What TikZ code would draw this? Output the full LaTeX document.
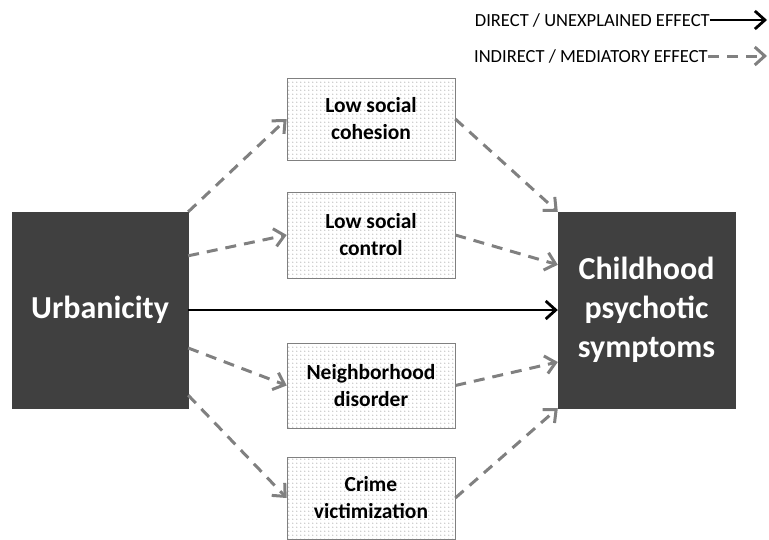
\documentclass[tikz,border=0pt]{standalone}
\usepackage{fontspec}
\setmainfont{Carlito}
\usetikzlibrary{arrows.meta,patterns}
\definecolor{darkbox}{HTML}{404040}
\definecolor{arrowgray}{HTML}{808080}
\pgfdeclarepatternformonly{sparsedots}{\pgfpointorigin}{\pgfpoint{4pt}{4pt}}{\pgfpoint{4pt}{4pt}}{%
  \pgfpathcircle{\pgfpoint{1pt}{1pt}}{0.75pt}\pgfusepath{fill}}
\begin{document}
\begin{tikzpicture}[x=1pt,y=-1pt,
  bigbox/.style={draw=darkbox,fill=darkbox,text=white,font=\bfseries\fontsize{32}{39}\selectfont,align=center,inner sep=0pt},
  medbox/.style={draw=arrowgray,line width=0.6pt,pattern=sparsedots,pattern color=gray!75,font=\bfseries\fontsize{21.5}{27}\selectfont,align=center,inner sep=0pt},
  direct/.style={line width=2.8pt,black,-{Straight Barb[length=10pt,width=18pt]}},
  indirect/.style={line width=3pt,arrowgray,dash pattern=on 11pt off 8pt,-{Straight Barb[length=10pt,width=18pt]}},
  legend/.style={font=\fontsize{18.5}{22}\selectfont,anchor=east,inner sep=0pt}
]
\useasboundingbox (0,0) rectangle (769,539);
\node[bigbox,minimum width=176pt,minimum height=196pt] (urb) at (100,310) {Urbanicity};
\node[bigbox,minimum width=177pt,minimum height=196pt] (child) at (646.5,310) {Childhood\\psychotic\\symptoms};
\node[medbox,minimum width=168pt,minimum height=82pt] (m1) at (371,119) {Low social\\cohesion};
\node[medbox,minimum width=168pt,minimum height=86pt] (m2) at (371,235) {Low social\\control};
\node[medbox,minimum width=168pt,minimum height=85pt] (m3) at (371,385.5) {Neighborhood\\disorder};
\node[medbox,minimum width=168pt,minimum height=82pt] (m4) at (371,498) {Crime\\victimization};
% legend
\node[legend] (l1) at (710,20) {DIRECT / UNEXPLAINED EFFECT};
\node[legend] (l2) at (708,56) {INDIRECT / MEDIATORY EFFECT};
\coordinate (l1e) at (767,20);
\coordinate (l2e) at (767,56);
\draw[direct] (l1.east) -- (l1e);
\draw[indirect] (l2.east) -- (l2e);
% arrows
\draw[direct] (urb.east) -- (child.west);
\draw[indirect] (urb.north east) -- (m1.west);
\draw[indirect] ([yshift=-44pt]urb.north east) -- (m2.west);
\draw[indirect] ([yshift=-38pt]urb.east) -- (m3.west);
\draw[indirect] ([yshift=13pt]urb.south east) -- (m4.west);
\draw[indirect] (m1.east) -- (child.north west);
\draw[indirect] (m2.east) -- ([yshift=-53pt]child.north west);
\draw[indirect] (m3.east) -- ([yshift=-52pt]child.west);
\draw[indirect] (m4.east) -- (child.south west);
\end{tikzpicture}
\end{document}
